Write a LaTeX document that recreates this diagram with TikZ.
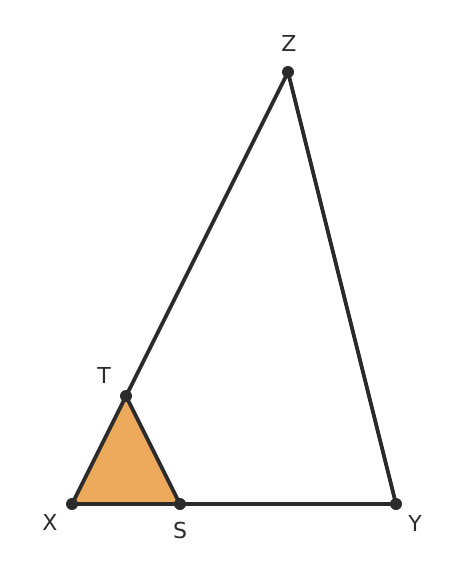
\documentclass[tikz,border=0pt]{standalone}
\usepackage{fontspec}
\setmainfont{DejaVu Sans}
\definecolor{edge}{HTML}{2B2B2B}
\definecolor{fillor}{HTML}{EDA95C}
\begin{document}
\begin{tikzpicture}[x=1pt,y=-1pt,
  pt/.style={circle,fill=edge,inner sep=0pt,minimum size=12pt},
  lbl/.style={font=\fontsize{22}{22}\selectfont,text=edge,inner sep=0pt},
  seg/.style={draw=edge,line width=3.8pt,line join=round}]
\useasboundingbox (0,0) rectangle (468,576);
\coordinate (X) at (72,504);
\coordinate (Y) at (396,504);
\coordinate (Z) at (288,72);
\coordinate (T) at (126,396);
\coordinate (S) at (180,504);
\fill[fillor] (X) -- (T) -- (S) -- cycle;
\draw[seg] (X) -- (Y) -- (Z) -- cycle;
\draw[seg] (T) -- (S);
\foreach \p in {X,Y,Z,T,S} \node[pt] (d\p) at (\p) {};
\node[lbl] (lZ) at (289,43) {Z};
\node[lbl] (lT) at (104,375) {T};
\node[lbl] (lX) at (50,522) {X};
\node[lbl] (lS) at (180,530) {S};
\node[lbl] (lY) at (415,523) {Y};
\end{tikzpicture}
\end{document}
